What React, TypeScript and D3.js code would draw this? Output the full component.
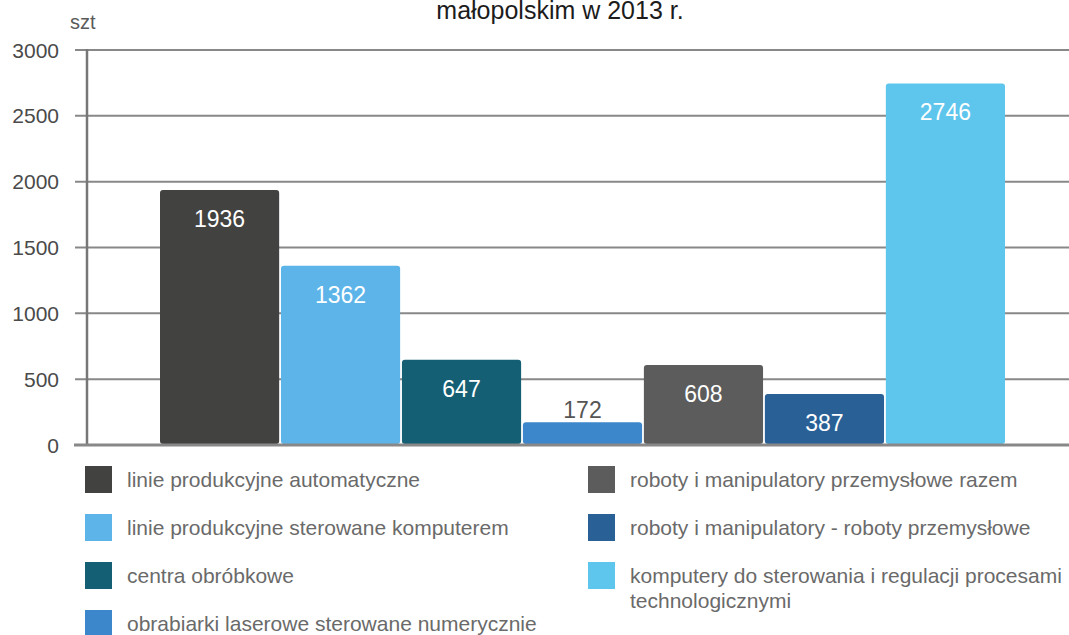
import React from 'react'
import { scaleBand, scaleLinear } from 'd3'

// data
const categories = [
  'linie produkcyjne automatyczne',
  'linie produkcyjne sterowane komputerem',
  'centra obróbkowe',
  'obrabiarki laserowe sterowane numerycznie',
  'roboty i manipulatory przemysłowe razem',
  'roboty i manipulatory - roboty przemysłowe',
  'komputery do sterowania i regulacji procesami technologicznymi',
]
const values = [1936, 1362, 647, 172, 608, 387, 2746]
const colors = ['#424240', '#5cb4e9', '#145f74', '#3c86cc', '#5c5c5c', '#296197', '#5ec5ed']
const yTicks = [0, 500, 1000, 1500, 2000, 2500, 3000]
// legend lines (the last item wraps)
const legendLines = [
  ['linie produkcyjne automatyczne'],
  ['linie produkcyjne sterowane komputerem'],
  ['centra obróbkowe'],
  ['obrabiarki laserowe sterowane numerycznie'],
  ['roboty i manipulatory przemysłowe razem'],
  ['roboty i manipulatory - roboty przemysłowe'],
  ['komputery do sterowania i regulacji procesami', 'technologicznymi'],
]

const W = 1069
const H = 635
const font = '"Liberation Sans", Arial, sans-serif'

export default function App() {
  const x = scaleBand<number>()
    .domain(values.map((_, i) => i))
    .range([160, 1005])
    .paddingInner(0.015)
  const y = scaleLinear().domain([0, 3000]).range([445, 50])

  const axisX = 87
  const gridLeft = 75

  return (
    <svg
      width={W}
      height={H}
      viewBox={`0 0 ${W} ${H}`}
      style={{ position: 'absolute', left: 0, top: 0, background: '#fff' }}
      fontFamily={font}
    >
      <text x={560} y={19} textAnchor="middle" fontSize={25} fill="#1c1c1c">
        małopolskim w 2013 r.
      </text>
      <text x={70} y={29} fontSize={20} fill="#5a5a5a">szt</text>

      {/* gridlines + y tick labels */}
      {yTicks.map(t => (
        <g key={t}>
          {t > 0 && (
            <line x1={gridLeft} x2={W} y1={y(t)} y2={y(t)} stroke="#888" strokeWidth={2} />
          )}
          <text x={59} y={y(t)} dy="0.36em" textAnchor="end" fontSize={21} fill="#4a4a4a">
            {t}
          </text>
        </g>
      ))}
      <line x1={axisX} x2={axisX} y1={y(3000) - 1} y2={y(0)} stroke="#777" strokeWidth={2.5} />

      {/* bars */}
      {values.map((v, i) => {
        const bx = x(i) as number
        const top = y(v)
        const inside = y(0) - top > 40
        return (
          <g key={i}>
            <rect
              x={bx}
              y={top}
              width={x.bandwidth()}
              height={y(0) - top - 1}
              rx={3}
              fill={colors[i]}
            />
            <text
              x={bx + x.bandwidth() / 2}
              y={inside ? top + 37 : top - 4}
              textAnchor="middle"
              fontSize={23}
              fill={inside ? '#fff' : '#555'}
            >
              {v}
            </text>
          </g>
        )
      })}
      <line x1={gridLeft - 1} x2={W} y1={y(0)} y2={y(0)} stroke="#888" strokeWidth={3} />

      {/* legend */}
      {categories.map((c, i) => {
        const col = i < 4 ? 0 : 1
        const row = i < 4 ? i : i - 4
        const lx = col === 0 ? 85 : 588
        const ly = 466 + row * 48
        return (
          <g key={c}>
            <rect x={lx} y={ly} width={27} height={27} fill={colors[i]} />
            <text x={lx + 43} y={ly + 13} fontSize={21} fill="#6a6a6a">
              {legendLines[i].map((ln, k) => (
                <tspan key={k} x={lx + 42} dy={k === 0 ? '0.36em' : 25}>
                  {ln}
                </tspan>
              ))}
            </text>
          </g>
        )
      })}
    </svg>
  )
}
